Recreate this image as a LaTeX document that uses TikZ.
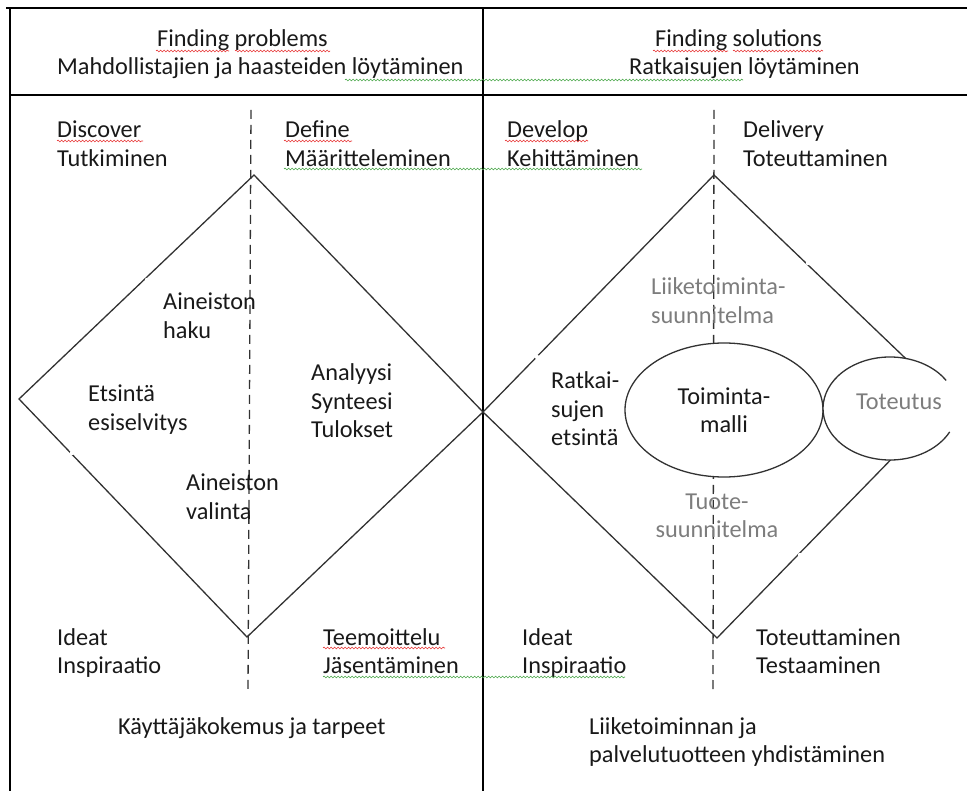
\documentclass[tikz,border=0pt]{standalone}
\usepackage{fontspec}
\setmainfont{Carlito}
\usetikzlibrary{shapes.geometric,decorations.pathmorphing}
\definecolor{ink}{RGB}{25,25,25}
\definecolor{lgray}{RGB}{125,125,125}
\definecolor{lineg}{RGB}{50,50,50}
\definecolor{spellred}{RGB}{230,50,50}
\definecolor{spellgreen}{RGB}{70,165,70}
\begin{document}
\begin{tikzpicture}[x=1pt,y=-1pt,
  txt/.style={inner sep=0pt, anchor=base west, align=left, font=\fontsize{24.3}{28.5}\selectfont, text=ink},
  gtxt/.style={txt, text=lgray},
  frame/.style={draw=black, line width=1.2pt},
  dline/.style={draw=lineg, line width=1.3pt, line join=miter},
  dashline/.style={draw=lineg, line width=1.3pt, dash pattern=on 9pt off 6pt},
  redsq/.style={draw=spellred, line width=0.6pt, decorate, decoration={snake, amplitude=0.9pt, segment length=3.5pt}},
  greensq/.style={draw=spellgreen, line width=0.6pt, decorate, decoration={snake, amplitude=0.9pt, segment length=3.5pt}},
  gapmark/.style={fill=white}
]
\useasboundingbox (0,0) rectangle (967,791);

% table frame
\coordinate (ftl) at (6,8);
\coordinate (ftr) at (967,8);
\coordinate (lt) at (10,8);
\coordinate (lb) at (10,791);
\coordinate (mt) at (483,8);
\coordinate (mb) at (483,791);
\coordinate (hl) at (10,95);
\coordinate (hr) at (967,95);
\draw[frame, line width=1.8pt] (ftl) -- (ftr);
\draw[frame] (lt) -- (lb);
\draw[frame] (mt) -- (mb);
\draw[frame] (hl) -- (hr);

% diamonds
\coordinate (LT) at (254,175);
\coordinate (LL) at (19,399);
\coordinate (LB) at (247,637);
\coordinate (M)  at (483,412);
\coordinate (RT) at (714,175);
\coordinate (RB) at (717,638);
\coordinate (RR) at (949,400);
\draw[dline] (LT) -- (M) -- (LB) -- (LL) -- cycle;
\draw[dline] (RT) -- (M) -- (RB) -- (RR) -- cycle;

% small breaks in the outlines
\fill[gapmark] (147,280) circle (2.2pt);
\fill[gapmark] (72,453) circle (2.2pt);
\fill[gapmark] (537,357) circle (2.2pt);
\fill[gapmark] (808,263) circle (2.2pt);
\fill[gapmark] (800,555) circle (2.2pt);

% dashed axes
\coordinate (d1t) at (251,110);
\coordinate (d1b) at (248,692);
\coordinate (d2t) at (714,110);
\coordinate (d2b) at (713,692);
\draw[dashline] (d1t) -- (d1b);
\draw[dashline] (d2t) -- (d2b);

% ellipses
\node[ellipse, draw=lineg, line width=1.3pt, fill=white, minimum width=198pt, minimum height=134pt,
      inner sep=0pt, align=center, font=\fontsize{24.3}{28.5}\selectfont, text=ink] (tm) at (724,410) {Toiminta-\\malli};
\node[ellipse, fill=white, minimum width=134pt, minimum height=103pt, inner sep=0pt] (tot) at (890,408.5) {};
\draw[dline] (tot.center) ++(33:67pt and 51.5pt) arc[start angle=33, end angle=333, x radius=67pt, y radius=51.5pt];
\node[gtxt] (totl) at (856,410) {Toteutus};

% header
\node[txt] (h1a) at (157,47) {Finding problems};
\node[txt] (h1b) at (57,75) {Mahdollistajien ja haasteiden löytäminen};
\node[txt] (h2a) at (655,47) {Finding solutions};
\node[txt] (h2b) at (629,75) {Ratkaisujen löytäminen};

% phase labels (anchor = baseline of last line)
\node[txt] (discover) at (57,166.5) {Discover\\Tutkiminen};
\node[txt] (define) at (285,166.5) {Define\\Määritteleminen};
\node[txt] (develop) at (507,166.5) {Develop\\Kehittäminen};
\node[txt] (delivery) at (743,166.5) {Delivery\\Toteuttaminen};

% inside left diamond
\node[txt] (haku) at (163,338.5) {Aineiston\\haku};
\node[txt] (etsinta) at (88,430.5) {Etsintä\\esiselvitys};
\node[txt] (valinta) at (186,519.5) {Aineiston\\valinta};
\node[txt] (analyysi) at (311,438) {Analyysi\\Synteesi\\Tulokset};

% inside right diamond
\node[txt] (ratkai) at (551,446) {Ratkai-\\sujen\\etsintä};
\node[gtxt] (liike) at (651,323.5) {Liiketoiminta-\\suunnitelma};
\node[gtxt, anchor=base, align=center] (tuote) at (717,537.5) {Tuote-\\suunnitelma};

% bottom labels
\node[txt] (ideat1) at (57,673.5) {Ideat\\Inspiraatio};
\node[txt] (teemo) at (323,673.5) {Teemoittelu\\Jäsentäminen};
\node[txt] (kaytt) at (118,734) {Käyttäjäkokemus ja tarpeet};
\node[txt] (ideat2) at (522,673.5) {Ideat\\Inspiraatio};
\node[txt] (toteut) at (756,673.5) {Toteuttaminen\\Testaaminen};
\node[txt] (liiketoim) at (589,762.5) {Liiketoiminnan ja\\palvelutuotteen yhdistäminen};

% spell-check underlines
\draw[redsq] (156,51) -- (229,51);
\draw[redsq] (235,51) -- (330,51);
\draw[redsq] (653,51) -- (728,51);
\draw[redsq] (733,51) -- (823,51);
\draw[redsq] (57,141) -- (143,141);
\draw[redsq] (284,141) -- (352,141);
\draw[redsq] (505,141) -- (588,141);
\draw[redsq] (323,648) -- (445,648);
\draw[greensq] (345,80) -- (743,80);
\draw[greensq] (284,169) -- (642,169);
\draw[greensq] (323,677) -- (625,677);
\end{tikzpicture}
\end{document}
